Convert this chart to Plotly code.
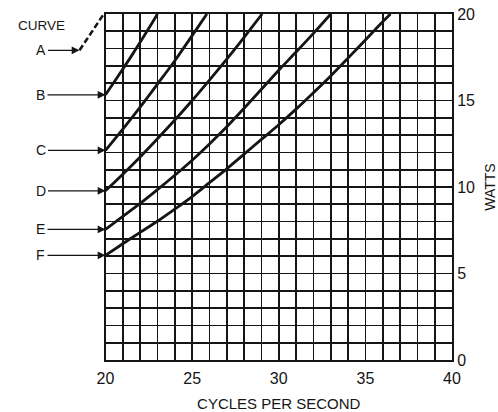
import plotly.graph_objects as go

# ---- data ----
curve_labels = ["A", "B", "C", "D", "E", "F"]

cycles_A = [18.5, 19.2, 19.9]
watts_A = [17.9, 18.95, 20.0]

cycles_B = [20.0, 20.5, 21.0, 21.5, 22.0, 22.5, 23.0]
watts_B = [15.33, 16.07, 16.82, 17.58, 18.37, 19.17, 20.0]

cycles_C = [20.0, 21.0, 22.0, 23.0, 24.0, 25.0, 25.85]
watts_C = [12.12, 13.35, 14.62, 15.95, 17.3, 18.75, 20.0]

cycles_D = [20.0, 21.0, 22.0, 23.0, 24.0, 25.0, 26.0, 27.0, 28.0, 29.04]
watts_D = [9.78, 10.74, 11.74, 12.79, 13.87, 15.0, 16.18, 17.39, 18.65, 20.0]

cycles_E = [20.0, 21.0, 22.0, 23.0, 24.0, 25.0, 26.0, 27.0, 28.0, 29.0, 30.0, 31.0, 32.0, 33.0]
watts_E = [7.55, 8.3, 9.05, 9.85, 10.68, 11.55, 12.49, 13.48, 14.55, 15.65, 16.75, 17.8, 18.88, 20.0]

cycles_F = [20.0, 21.0, 22.0, 23.0, 24.0, 25.0, 26.0, 27.0, 28.0, 29.0, 30.0, 31.0, 32.0, 33.0,
            34.0, 35.0, 36.0, 36.45]
watts_F = [6.05, 6.72, 7.38, 8.02, 8.72, 9.45, 10.25, 11.05, 11.9, 12.75, 13.6, 14.5, 15.45,
           16.42, 17.45, 18.5, 19.55, 20.0]

x_ticks = [20, 25, 30, 35, 40]
y_ticks = [0, 5, 10, 15, 20]
x_title = "CYCLES PER SECOND"
y_title = "WATTS"
legend_title = "CURVE"

# ---- geometry (page pixels; body margin is removed below) ----
W, H = 498, 412
left_px, right_px, top_px, bottom_px = 15, 452, 14, 360  # drawing area in page pixels
ML = left_px
MR = W - right_px
MT = top_px
MB = H - bottom_px
plot_w = W - ML - MR
plot_h = H - MT - MB
x20_px = 105.5  # page pixel of the left grid border
d0 = (x20_px - left_px) / plot_w
scale = (right_px - x20_px) / 20.0
x2_start = 40 - plot_w / scale


def px_to_x2(px):
    return x2_start + (px - left_px) / scale


def py_to_y(py):
    return (bottom_px - py) / plot_h * 20.0


INK = "#151515"
FONT = "Liberation Sans"

fig = go.Figure()
curve_x = [cycles_B, cycles_C, cycles_D, cycles_E, cycles_F]
curve_y = [watts_B, watts_C, watts_D, watts_E, watts_F]
for cx, cy in zip(curve_x, curve_y):
    fig.add_trace(go.Scatter(x=cx, y=cy, mode="lines", xaxis="x", yaxis="y",
                             line=dict(color=INK, width=2.8, shape="spline", smoothing=0.8),
                             hoverinfo="skip", showlegend=False))

fig.add_trace(go.Scatter(x=cycles_A, y=watts_A, mode="lines", xaxis="x2", yaxis="y2",
                         line=dict(color=INK, width=2.6, dash="6px,3px"),
                         hoverinfo="skip", showlegend=False))

# arrows + labels
starts = [(cycles_A[0], watts_A[0])] + [(cx[0], cy[0]) for cx, cy in zip(curve_x, curve_y)]
label_px = 40.5
annotations = []
for lab, (sx, sy) in zip(curve_labels, starts):
    annotations.append(dict(
        x=sx, y=sy, xref="x2", yref="y2",
        ax=px_to_x2(label_px), ay=sy, axref="x2", ayref="y2",
        text=lab, showarrow=True, arrowhead=2, arrowsize=1.2, arrowwidth=1.3,
        arrowcolor=INK, standoff=0, startstandoff=1,
        font=dict(family=FONT, size=14, color=INK)))
annotations.append(dict(
    x=px_to_x2(41), y=py_to_y(25), xref="x2", yref="y2",
    text=legend_title, showarrow=False,
    font=dict(family=FONT, size=13.5, color=INK)))

grid = dict(showgrid=True, gridcolor=INK, gridwidth=1.7, zeroline=False,
            showline=True, linecolor=INK, linewidth=2, mirror=True, ticks="",
            minor=dict(dtick=1, showgrid=True, gridcolor=INK, gridwidth=1.7),
            fixedrange=True, automargin=False, ticklabeloverflow="allow")

fig.update_layout(
    width=W, height=H,
    margin=dict(l=ML, r=MR, t=MT, b=MB),
    paper_bgcolor="white", plot_bgcolor="rgba(0,0,0,0)",
    showlegend=False,
    font=dict(family=FONT, color=INK),
    xaxis=dict(domain=[d0, 1], range=[20, 40], tickvals=x_ticks,
               ticktext=[str(v) for v in x_ticks], anchor="y",
               tickfont=dict(size=16), ticklabelstandoff=3,
               title=dict(text=x_title, font=dict(size=15)),
               **grid),
    yaxis=dict(domain=[0, 1], range=[0, 20], tickvals=y_ticks, side="right",
               anchor="x", ticktext=[str(v) for v in y_ticks],
               tickfont=dict(size=16), ticklabelstandoff=0,
               title=dict(text=y_title, font=dict(size=14)),
               **grid),
    xaxis2=dict(domain=[0, 1], range=[x2_start, 40], anchor="y2",
                visible=False, fixedrange=True, automargin=False),
    yaxis2=dict(domain=[0, 1], range=[0, 20], anchor="x2",
                visible=False, fixedrange=True, automargin=False),
    annotations=annotations,
)

fig.write_html("out.html",
               config={"displayModeBar": False, "staticPlot": True},
               post_script="document.body.style.margin='0px';"
                           "document.body.style.overflow='hidden';")
